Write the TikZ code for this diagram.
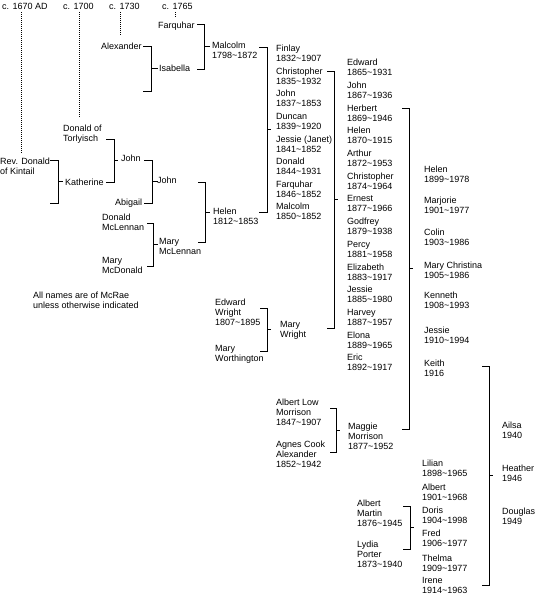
\documentclass[tikz,border=0pt]{standalone}
\usepackage{fontspec}
\setmainfont{Liberation Sans}
\newcommand\dd{\textasciitilde}
\newcommand\pp[4]{\node[per] (#1) at (#2,{#3-4.5}) {\rule{0pt}{8pt}#4};}
\newcommand\famb[6]{%
  \coordinate (#1a) at (#2,#4);
  \coordinate (#1b) at (#3,#4);
  \coordinate (#1c) at (#3,#5);
  \coordinate (#1d) at (#2,#5);
  \coordinate (#1m) at (#3,{(#4+#5)/2});
  \coordinate (#1t) at (#6,{(#4+#5)/2});
  \draw[conn] (#1a) -- (#1b) -- (#1c) -- (#1d);
  \draw[conn] (#1m) -- (#1t);}
\newcommand\dotl[4]{%
  \coordinate (#1a) at (#2,#3);
  \coordinate (#1b) at (#2,#4);
  \draw[dotline] (#1a) -- (#1b);}
\begin{document}
\begin{tikzpicture}[x=1pt,y=-1pt,
  per/.style={anchor=north west, inner sep=0pt, align=left, font=\fontsize{9}{10}\selectfont},
  conn/.style={line width=1pt, black},
  dotline/.style={line width=1pt, black, dash pattern=on 1pt off 1pt}]
\useasboundingbox[fill=white] (0,0) rectangle (537,595);
% eras
\pp{e1670}{2}{6}{c. 1670 AD}
\pp{e1700}{63}{6}{c. 1700}
\pp{e1730}{109}{6}{c. 1730}
\pp{e1765}{162}{6}{c. 1765}
\dotl{da}{21.5}{12}{153}
\dotl{db}{79.5}{12}{118}
\dotl{dc}{120.5}{12}{36}
\dotl{dd}{175.5}{12}{18}
% early generations
\pp{farquhar}{158}{25}{Farquhar}
\pp{alexander}{101}{46}{Alexander}
\pp{isabella}{159}{68}{Isabella}
\pp{malcolm}{212}{45}{Malcolm\\1798\dd1872}
\pp{torlyisch}{63}{128}{Donald of\\Torlyisch}
\pp{revdonald}{0}{161}{Rev. Donald\\of Kintail}
\pp{katherine}{65}{182}{Katherine}
\pp{johna}{121}{158}{John}
\pp{abigail}{115}{202}{Abigail}
\pp{johnb}{157}{180}{John}
\pp{dmclennan}{102}{217}{Donald\\McLennan}
\pp{mmcdonald}{102}{260}{Mary\\McDonald}
\pp{mmclennan}{159}{241}{Mary\\McLennan}
\pp{helen}{213}{211}{Helen\\1812\dd1853}
\pp{note}{33}{295}{All names are of McRae\\unless otherwise indicated}
\pp{ewright}{215}{302}{Edward\\Wright\\1807\dd1895}
\pp{mworth}{215}{348}{Mary\\Worthington}
\pp{mwright}{280}{324}{Mary\\Wright}
\pp{almorrison}{276}{402}{Albert Low\\Morrison\\1847\dd1907}
\pp{agnes}{276}{444}{Agnes Cook\\Alexander\\1852\dd1942}
\pp{maggie}{348}{426}{Maggie\\Morrison\\1877\dd1952}
\pp{amartin}{357}{503}{Albert\\Martin\\1876\dd1945}
\pp{lydia}{357}{544}{Lydia\\Porter\\1873\dd1940}
% children of Malcolm and Helen
\pp{fa}{276}{48}{Finlay\\1832\dd1907}
\pp{fb}{276}{70.6}{Christopher\\1835\dd1932}
\pp{fc}{276}{93.2}{John\\1837\dd1853}
\pp{fd}{276}{115.8}{Duncan\\1839\dd1920}
\pp{fe}{276}{138.4}{Jessie (Janet)\\1841\dd1852}
\pp{ff}{276}{161}{Donald\\1844\dd1931}
\pp{fg}{276}{183.6}{Farquhar\\1846\dd1852}
\pp{fh}{276}{206.2}{Malcolm\\1850\dd1852}
% children of Christopher and Mary Wright
\pp{ca}{347}{62}{Edward\\1865\dd1931}
\pp{cb}{347}{84.7}{John\\1867\dd1936}
\pp{cc}{347}{107.4}{Herbert\\1869\dd1946}
\pp{cd}{347}{130.1}{Helen\\1870\dd1915}
\pp{ce}{347}{152.8}{Arthur\\1872\dd1953}
\pp{cf}{347}{175.5}{Christopher\\1874\dd1964}
\pp{cg}{347}{198.2}{Ernest\\1877\dd1966}
\pp{ch}{347}{220.9}{Godfrey\\1879\dd1938}
\pp{ci}{347}{243.6}{Percy\\1881\dd1958}
\pp{cj}{347}{266.3}{Elizabeth\\1883\dd1917}
\pp{ck}{347}{289}{Jessie\\1885\dd1980}
\pp{cl}{347}{311.7}{Harvey\\1887\dd1957}
\pp{cm}{347}{334.4}{Elona\\1889\dd1965}
\pp{cn}{347}{357.1}{Eric\\1892\dd1917}
% children of Herbert and Maggie
\pp{ha}{424}{169}{Helen\\1899\dd1978}
\pp{hb}{424}{200}{Marjorie\\1901\dd1977}
\pp{hc}{424}{232}{Colin\\1903\dd1986}
\pp{hd}{424}{265}{Mary Christina\\1905\dd1986}
\pp{he}{424}{295}{Kenneth\\1908\dd1993}
\pp{hf}{424}{330}{Jessie\\1910\dd1994}
\pp{hg}{424}{363}{Keith\\1916}
% children of Albert Martin and Lydia
\pp{la}{422}{463}{Lilian\\1898\dd1965}
\pp{lb}{422}{487}{Albert\\1901\dd1968}
\pp{lc}{422}{510}{Doris\\1904\dd1998}
\pp{ld}{422}{533}{Fred\\1906\dd1977}
\pp{le}{422}{558}{Thelma\\1909\dd1977}
\pp{lf}{422}{580}{Irene\\1914\dd1963}
% children of Keith and Irene
\pp{ka}{502}{425}{Ailsa\\1940}
\pp{kb}{502}{468}{Heather\\1946}
\pp{kc}{502}{511}{Douglas\\1949}
% brackets
\famb{bfi}{197}{204}{24}{69}{210}
\famb{bal}{143}{151}{46}{91}{158}
\famb{bmh}{259}{267}{47}{212}{271}
\famb{bcm}{327}{334}{71}{328}{338}
\famb{bhm}{402}{409}{108}{429}{413}
\famb{bki}{482}{489}{366}{585}{493}
\famb{bam}{403}{410}{506}{549}{414}
\famb{bla}{330}{336}{408}{452}{340}
\famb{bew}{260}{267}{308}{351}{271}
\famb{brd}{50}{58}{160}{203}{63}
\famb{bdk}{106}{114}{139}{182}{118}
\famb{bja}{144}{152}{160}{203}{158}
\famb{bdm}{147}{153}{223}{266}{158}
\famb{bjm}{198}{205}{182}{242}{210}
\end{tikzpicture}
\end{document}
